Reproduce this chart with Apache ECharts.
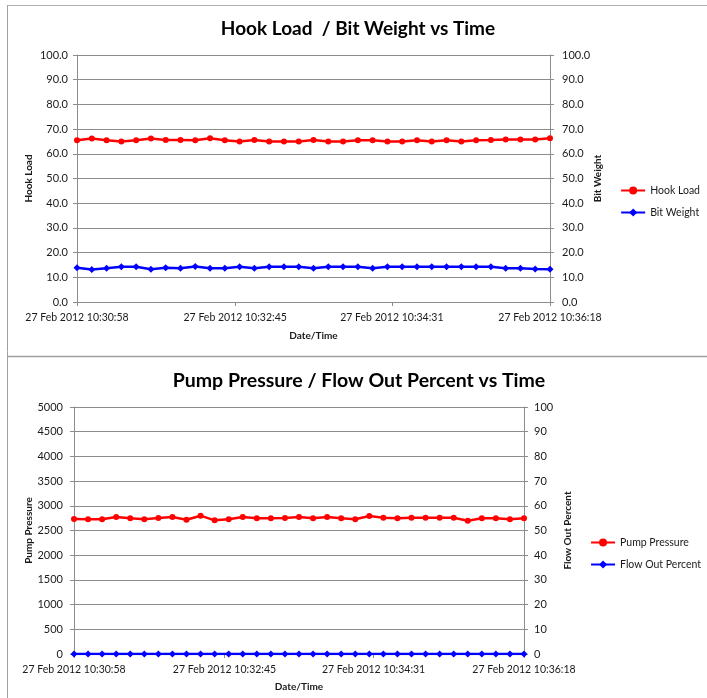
<!DOCTYPE html>
<html>
<head>
<meta charset="utf-8">
<script src="https://cdn.jsdelivr.net/npm/echarts@6/dist/echarts.min.js"></script>
<style>
html,body{margin:0;padding:0;background:#fff;}
#main{width:707px;height:698px;}
</style>
</head>
<body>
<div id="main"></div>
<script>
const times = ["10:30:58","10:31:08","10:31:18","10:31:28","10:31:38","10:31:48","10:31:58","10:32:08","10:32:18","10:32:28","10:32:38","10:32:48","10:32:58","10:33:08","10:33:18","10:33:28","10:33:38","10:33:48","10:33:58","10:34:08","10:34:18","10:34:28","10:34:38","10:34:48","10:34:58","10:35:08","10:35:18","10:35:28","10:35:38","10:35:48","10:35:58","10:36:08","10:36:18"];
const hookLoad = [65.5,66.2,65.5,65.0,65.5,66.2,65.6,65.6,65.5,66.3,65.5,65.0,65.6,65.0,65.0,65.0,65.6,65.0,65.0,65.5,65.5,65.0,65.0,65.5,65.0,65.5,65.0,65.5,65.6,65.8,65.8,65.8,66.3];
const bitWeight = [13.9,13.2,13.7,14.3,14.3,13.3,13.9,13.7,14.4,13.7,13.7,14.3,13.7,14.3,14.3,14.3,13.7,14.3,14.3,14.3,13.7,14.3,14.3,14.3,14.3,14.3,14.3,14.3,14.3,13.7,13.7,13.4,13.3];
const pumpPressure = [2733,2726,2726,2773,2746,2726,2753,2773,2719,2800,2706,2726,2773,2746,2746,2753,2773,2746,2773,2746,2726,2793,2760,2746,2760,2760,2760,2760,2699,2746,2746,2726,2746];
const flowOutPercent = [0,0,0,0,0,0,0,0,0,0,0,0,0,0,0,0,0,0,0,0,0,0,0,0,0,0,0,0,0,0,0,0,0];
const xTickLabels = ["10:30:58","10:32:45","10:34:31","10:36:18"];
const datePrefix = "27 Feb 2012 ";

function toSec(t){const p=t.split(':').map(Number);return p[0]*3600+p[1]*60+p[2];}
const base = toSec(times[0]);
const endSec = toSec(times[times.length-1]) - base;
function off(t){return toSec(t)-base;}
function pairs(vals){return times.map((t,i)=>[off(t),vals[i]]);}
function fmtSec(v){
  let s = Math.round(base+v);
  const h=Math.floor(s/3600), m=Math.floor((s%3600)/60), sec=s%60;
  const pad=n=>(n<10?'0':'')+n;
  return datePrefix+pad(h)+':'+pad(m)+':'+pad(sec);
}
const tickVals = xTickLabels.map(off);

const FONT = 'Lato';
const gridColor = '#8c8c8c';
const txt = '#1a1a1a';

function xAxisCfg(gi, gap){
  return {
    type:'value', gridIndex:gi, min:0, max:endSec,
    name:'Date/Time', nameLocation:'middle', nameGap:gap, nameMoveOverlap:false,
    nameTextStyle:{fontFamily:FONT,fontSize:10,fontWeight:'bold',color:txt},
    axisLine:{show:true,lineStyle:{color:gridColor,width:1}},
    axisTick:{show:true,inside:false,length:4,customValues:tickVals,lineStyle:{color:gridColor}},
    axisLabel:{customValues:tickVals,formatter:fmtSec,fontFamily:FONT,fontSize:10.5,color:txt,margin:10,showMinLabel:true,showMaxLabel:true,hideOverlap:false},
    splitLine:{show:false}
  };
}
function yAxisCfg(gi,pos,max,interval,dec,name,gap,margin){
  return {
    type:'value', gridIndex:gi, position:pos, min:0, max:max, interval:interval,
    name:name, nameLocation:'middle', nameRotate:90, nameGap:gap, nameMoveOverlap:false,
    nameTextStyle:{fontFamily:FONT,fontSize:10,fontWeight:'bold',color:txt},
    axisLine:{show:true,lineStyle:{color:gridColor,width:1}},
    axisTick:{show:true,inside:false,length:4,lineStyle:{color:gridColor}},
    axisLabel:{fontFamily:FONT,fontSize:11,color:txt,margin:margin,formatter:v=>dec?v.toFixed(1):String(v)},
    splitLine:{show:pos==='left',lineStyle:{color:gridColor,width:1}}
  };
}
function lineSeries(name,data,color,xi,yi,symbol,size,width){
  return {
    name:name,type:'line',xAxisIndex:xi,yAxisIndex:yi,data:pairs(data),
    symbol:symbol,symbolSize:size,showSymbol:true,
    lineStyle:{color:color,width:width},itemStyle:{color:color},
    emphasis:{disabled:true}
  };
}

const chart = echarts.init(document.getElementById('main'),null,{renderer:'canvas'});
chart.setOption({
  animation:false,
  backgroundColor:'#ffffff',
  textStyle:{fontFamily:FONT},
  title:[
    {text:'Hook Load  / Bit Weight vs Time',left:353,top:14,textAlign:'center',textStyle:{fontFamily:FONT,fontSize:19,fontWeight:'bold',color:'#000'}},
    {text:'Pump Pressure / Flow Out Percent vs Time',left:354,top:366,textAlign:'center',textStyle:{fontFamily:FONT,fontSize:19.5,fontWeight:'bold',color:'#000'}}
  ],
  legend:[
    {data:['Hook Load','Bit Weight'],orient:'vertical',right:2,top:180,itemWidth:24,itemHeight:10,itemGap:11,
     textStyle:{fontFamily:FONT,fontSize:10.5,color:txt,lineHeight:10},selectedMode:false},
    {data:['Pump Pressure','Flow Out Percent'],orient:'vertical',right:1,top:532,itemWidth:24,itemHeight:10,itemGap:11,
     textStyle:{fontFamily:FONT,fontSize:10.5,color:txt,lineHeight:10},selectedMode:false}
  ],
  grid:[
    {left:77,top:55,width:473,height:247,containLabel:false},
    {left:74,top:407,width:450,height:247,containLabel:false}
  ],
  xAxis:[xAxisCfg(0,29),xAxisCfg(1,28)],
  yAxis:[
    yAxisCfg(0,'left',100,10,true,'Hook Load',43,9),
    yAxisCfg(0,'right',100,10,true,'Bit Weight',43,12),
    yAxisCfg(1,'left',5000,500,false,'Pump Pressure',40,11),
    yAxisCfg(1,'right',100,10,false,'Flow Out Percent',39,10)
  ],
  series:[
    lineSeries('Hook Load',hookLoad,'#ff0000',0,0,'circle',6,2.5),
    lineSeries('Bit Weight',bitWeight,'#0000ff',0,1,'diamond',7,2.5),
    lineSeries('Pump Pressure',pumpPressure,'#ff0000',1,2,'circle',6,2.5),
    lineSeries('Flow Out Percent',flowOutPercent,'#0000ff',1,3,'diamond',7,2.5)
  ],
  graphic:[
    {type:'line',shape:{x1:7,y1:5.5,x2:707,y2:5.5},style:{stroke:'#b0b0b0',lineWidth:1},silent:true},
    {type:'line',shape:{x1:7.5,y1:5,x2:7.5,y2:698},style:{stroke:'#a0a0a0',lineWidth:1},silent:true},
    {type:'line',shape:{x1:7,y1:356.5,x2:707,y2:356.5},style:{stroke:'#a0a0a0',lineWidth:1.5},silent:true}
  ]
});
</script>
</body>
</html>
